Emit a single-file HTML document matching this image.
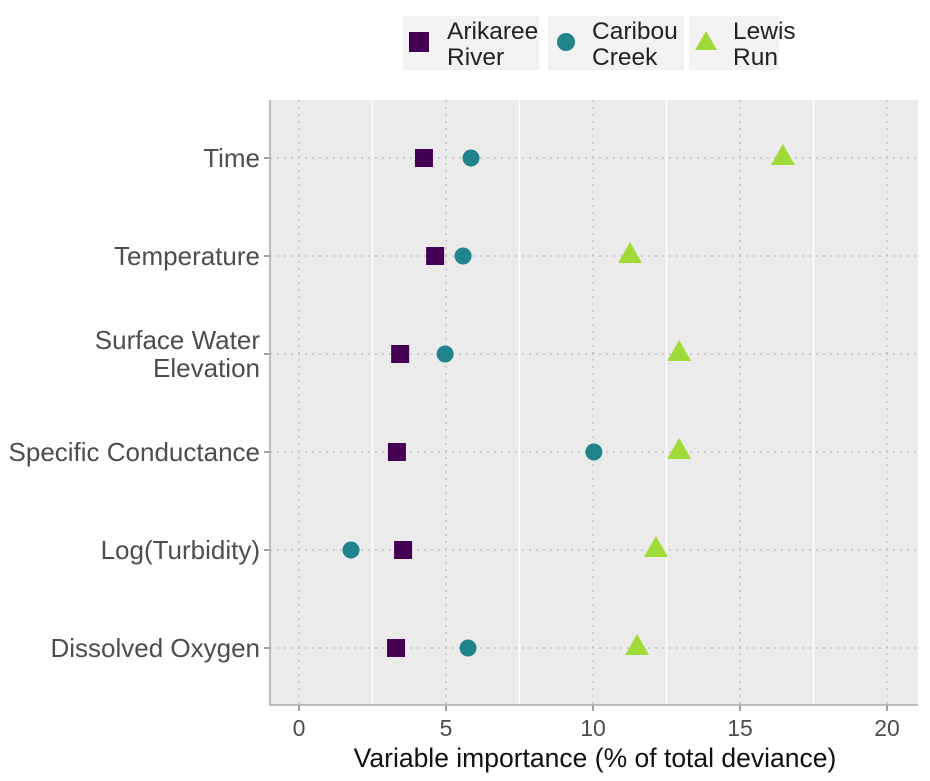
<!DOCTYPE html>
<html><head><meta charset="utf-8"><style>
body{margin:0;background:#fff;}
svg{font-family:"Liberation Sans",sans-serif;}
</style></head><body>
<svg id="chart" width="930" height="776" xmlns="http://www.w3.org/2000/svg">
<g id="legend">
 <rect x="403" y="16" width="136" height="54" fill="#f2f2f2"/>
 <rect x="409" y="32" width="20" height="20" fill="#440154"/>
 <text x="447" y="39" font-size="24.5" fill="#222">Arikaree</text>
 <text x="447" y="65" font-size="24.5" fill="#222">River</text>
 <rect x="548" y="16" width="136" height="54" fill="#f2f2f2"/>
 <circle cx="566" cy="42" r="9" fill="#21838c"/>
 <text x="592" y="39" font-size="24.5" fill="#222">Caribou</text>
 <text x="592" y="65" font-size="24.5" fill="#222">Creek</text>
 <rect x="689" y="16" width="90" height="54" fill="#f2f2f2"/>
 <polygon points="706,31 717,50 695,50" fill="#a0da39"/>
 <text x="733" y="39" font-size="24.5" fill="#222">Lewis</text>
 <text x="733" y="65" font-size="24.5" fill="#222">Run</text>
</g>
</svg>
<script>
const categories=["Time","Temperature","Surface Water|Elevation","Specific Conductance","Log(Turbidity)","Dissolved Oxygen"];
const arikaree=[4.25,4.63,3.44,3.33,3.54,3.30];
const caribou=[5.85,5.58,4.97,10.03,1.77,5.75];
const lewis=[16.46,11.26,12.93,12.93,12.14,11.50];
const xTicks=[0,5,10,15,20];
const xMinor=[2.5,7.5,12.5,17.5];
const NS="http://www.w3.org/2000/svg";
const svg=document.getElementById('chart');
const L=270,R=918,T=100,B=705;
const x=v=>299+v*29.4;
const y=i=>158+i*98;
function mk(t,a,p){const e=document.createElementNS(NS,t);for(const k in a)e.setAttribute(k,a[k]);(p||svg).appendChild(e);return e;}
let e=mk('rect',{x:L,y:T,width:R-L,height:B-T,fill:'#ebebeb'});


xMinor.forEach(v=>{const l=mk('line',{x1:x(v),x2:x(v),y1:T,y2:B,stroke:'#fff','stroke-width':1.2});

});
xTicks.forEach(v=>{const l=mk('line',{x1:x(v),x2:x(v),y1:T,y2:B,stroke:'#c4c4c4','stroke-width':1.6,'stroke-dasharray':'2,5'});


const tk=mk('line',{x1:x(v),x2:x(v),y1:B,y2:B+6,stroke:'#444','stroke-width':1});


const t=mk('text',{x:x(v),y:B+31,'font-size':23,fill:'#4d4d4d','text-anchor':'middle'});t.textContent=v;

});
categories.forEach((c,i)=>{const l=mk('line',{x1:L,x2:R,y1:y(i),y2:y(i),stroke:'#c4c4c4','stroke-width':1.6,'stroke-dasharray':'2,5'});


const tk=mk('line',{x1:L-6,x2:L,y1:y(i),y2:y(i),stroke:'#444','stroke-width':1});


const parts=c.split('|');
parts.forEach((p,j)=>{const t=mk('text',{x:L-10,y:y(i)+9-(parts.length-1-j)*28+(parts.length>1?14:0),'font-size':26,fill:'#4d4d4d','text-anchor':'end'});t.textContent=p;

});});
const ax=mk('path',{d:`M${L},${T}V${B}H${R}`,stroke:'#aaa','stroke-width':1.5,fill:'none'});


const xt=mk('text',{x:595,y:767,'font-size':26.5,fill:'#111','text-anchor':'middle'});xt.textContent='Variable importance (% of total deviance)';


categories.forEach((c,i)=>{
const s=mk('rect',{x:x(arikaree[i])-9,y:y(i)-9,width:18,height:18,fill:'#440154'});


const ci=mk('circle',{cx:x(caribou[i]),cy:y(i),r:8.5,fill:'#21838c'});


const cx=x(lewis[i]),cy=y(i);
const tr=mk('polygon',{points:`${cx},${cy-14} ${cx+12},${cy+7} ${cx-12},${cy+7}`,fill:'#a0da39'});

});
const lg=document.getElementById('legend');svg.appendChild(lg);
</script>
</body></html>
